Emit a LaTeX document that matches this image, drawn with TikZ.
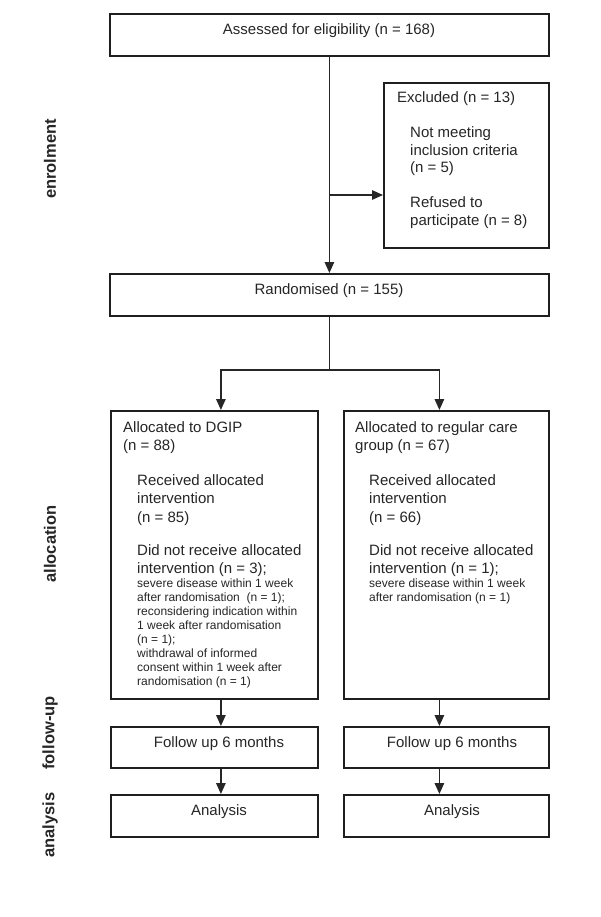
\documentclass[tikz,border=0pt]{standalone}
\usepackage{fontspec}
\setmainfont{Liberation Sans}
\usetikzlibrary{arrows.meta}
\begin{document}
\begin{tikzpicture}[x=1pt,y=-1pt,
  box/.style={draw=black!88, line width=1.8pt, inner sep=0pt, anchor=north west, fill=white},
  big/.style={inner sep=0pt, text=black!85, font=\fontsize{15}{18}\selectfont, align=left, anchor=base west},
  small/.style={inner sep=0pt, text=black!85, font=\fontsize{12}{14.1}\selectfont, align=left, anchor=base west},
  ctext/.style={inner sep=0pt, text=black!85, font=\fontsize{15}{18}\selectfont, anchor=base},
  phase/.style={inner sep=0pt, text=black!85, font=\bfseries\fontsize{16.5}{18}\selectfont, rotate=90, anchor=center},
  conn/.style={draw=black!85, line width=1.4pt},
  arr/.style={conn, -{Triangle[length=11pt,width=9.5pt]}}]
\useasboundingbox (0,0) rectangle (600,917);
% boxes
\node[box, minimum width=439pt, minimum height=42pt] (assess) at (109,13) {};
\node[box, minimum width=165pt, minimum height=165pt] (excl) at (383,82) {};
\node[box, minimum width=439pt, minimum height=42pt] (rand) at (109,273) {};
\node[box, minimum width=207pt, minimum height=288pt] (allocL) at (110,410) {};
\node[box, minimum width=205pt, minimum height=288pt] (allocR) at (343,410) {};
\node[box, minimum width=207pt, minimum height=41pt] (fuL) at (110,726) {};
\node[box, minimum width=205pt, minimum height=41pt] (fuR) at (343,726) {};
\node[box, minimum width=207pt, minimum height=42pt] (anL) at (110,794) {};
\node[box, minimum width=205pt, minimum height=42pt] (anR) at (343,794) {};
% texts (multi-line nodes: anchor at baseline of last line)
\node[ctext] (tAssess) at (329,35) {Assessed for eligibility (n = 168)};
\node[big] (tExcl) at (397,103) {Excluded (n = 13)};
\node[big, font=\fontsize{15}{17.5}\selectfont] (tNot) at (410,173) {Not meeting\\inclusion criteria\\(n = 5)};
\node[big, font=\fontsize{15}{17.5}\selectfont] (tRef) at (410,225.5) {Refused to\\participate (n = 8)};
\node[ctext] (tRand) at (329,294) {Randomised (n = 155)};
% left allocation
\node[big] (tLhead) at (123,450) {Allocated to DGIP\\(n = 88)};
\node[big, font=\fontsize{15}{18.5}\selectfont] (tLrec) at (137,522) {Received allocated\\intervention\\(n = 85)};
\node[big] (tLdnr) at (137,573) {Did not receive allocated\\intervention (n = 3);};
\node[small] (tLsmall) at (137,685.7) {severe disease within 1 week\\after randomisation~ (n = 1);\\reconsidering indication within\\1 week after randomisation\\(n = 1);\\withdrawal of informed\\consent within 1 week after\\randomisation (n = 1)};
% right allocation
\node[big] (tRhead) at (355,450) {Allocated to regular care\\group (n = 67)};
\node[big, font=\fontsize{15}{18.5}\selectfont] (tRrec) at (369,522) {Received allocated\\intervention\\(n = 66)};
\node[big] (tRdnr) at (369,573) {Did not receive allocated\\intervention (n = 1);};
\node[small] (tRsmall) at (369,601.1) {severe disease within 1 week\\after randomisation (n = 1)};
% follow-up & analysis
\node[ctext] (tFuL) at (219,747) {Follow up 6 months};
\node[ctext] (tFuR) at (452,747) {Follow up 6 months};
\node[ctext] (tAnL) at (219,815) {Analysis};
\node[ctext] (tAnR) at (452,815) {Analysis};
% phase labels
\node[phase] (pEnrol) at (50,159) {enrolment};
\node[phase] (pAlloc) at (50,544) {allocation};
\node[phase] (pFollow) at (50,733) {follow-up};
\node[phase] (pAnal) at (50,825) {analysis};
% connectors
\coordinate (exJ) at (assess.south |- 0,195);
\coordinate (split) at (rand.south |- 0,370);
\draw[arr] (assess.south) -- (rand.north);
\draw[arr] (exJ) -- (excl.west |- exJ);
\draw[conn] (rand.south) -- (split);
\draw[arr] (split) -| ([xshift=6.5pt]allocL.north);
\draw[arr] (split) -| ([xshift=-7pt]allocR.north);
\draw[arr] ([xshift=6.5pt]allocL.south) -- ([xshift=6.5pt]fuL.north);
\draw[arr] ([xshift=-7pt]allocR.south) -- ([xshift=-7pt]fuR.north);
\draw[arr] ([xshift=6.5pt]fuL.south) -- ([xshift=6.5pt]anL.north);
\draw[arr] ([xshift=-7pt]fuR.south) -- ([xshift=-7pt]anR.north);
\end{tikzpicture}
\end{document}
